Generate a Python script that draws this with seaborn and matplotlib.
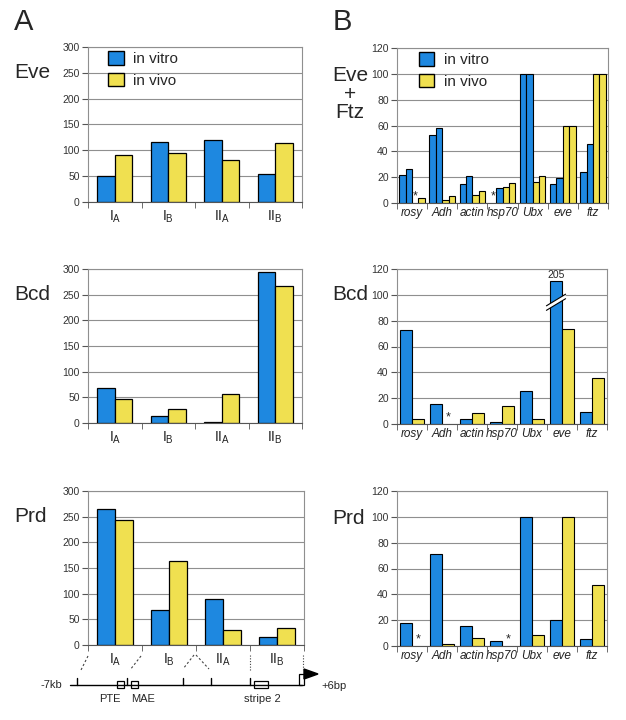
import numpy as np
import pandas as pd
import matplotlib
matplotlib.use("Agg")
import matplotlib.pyplot as plt
from matplotlib.patches import Patch, Rectangle, Polygon
import seaborn as sns

sns.set_style("ticks")
plt.rcParams["font.family"] = ["Liberation Sans", "DejaVu Sans"]
plt.rcParams["mathtext.fontset"] = "custom"
plt.rcParams["mathtext.rm"] = "Liberation Sans"

BLUE = "#1e88e0"
YELLOW = "#f0e050"
GRID = "#8f8f8f"

W, H = 626, 720

# --- panel A: enhancer regions ---
regions = ["IA", "IB", "IIA", "IIB"]
region_labels = [r"I$_{\rm A}$", r"I$_{\rm B}$", r"II$_{\rm A}$", r"II$_{\rm B}$"]

eve_vitro = [50, 116, 120, 55]
eve_vivo = [91, 95, 81, 115]
bcd_vitro = [68, 13, 2, 294]
bcd_vivo = [47, 27, 57, 267]
prd_vitro = [264, 69, 89, 16]
prd_vivo = [244, 164, 29, 34]

# --- panel B: control genes ---
genes = ["rosy", "Adh", "actin", "hsp70", "Ubx", "eve", "ftz"]

# Eve + Ftz: two in vitro and two in vivo measurements per gene (nan = *)
evftz_vitro1 = [22, 52.5, 14.5, np.nan, 100, 15, 24]
evftz_vitro2 = [26.5, 58, 21, 11.5, 100, 19, 46]
evftz_vivo1 = [np.nan, 2, 6.5, 12.5, 16, 59.5, 100]
evftz_vivo2 = [3.5, 5.5, 9, 15.5, 21, 59.5, 100]

bcdB_vitro = [73, 15.5, 4, 1.3, 25.5, 205, 9]
bcdB_vivo = [4, np.nan, 8.2, 13.7, 4, 73.5, 35.5]

prdB_vitro = [17.5, 71.5, 15.5, 3.6, 100, 20, 5.7]
prdB_vivo = [np.nan, 1.8, 6.2, np.nan, 8.8, 99.5, 47]

B_CLIP = 111  # broken-axis display height for off-scale bars


def px_axes(x0, y0, x1, y1):
    return fig.add_axes([x0 / W, 1 - y1 / H, (x1 - x0) / W, (y1 - y0) / H])


def style_axes(ax, n, ymax, step, labels, italic=False, pad=5, fs=9):
    ax.set_xlim(-0.5, n - 0.5)
    ax.set_ylim(0, ymax)
    ax.set_yticks(np.arange(0, ymax + 1, step))
    ax.yaxis.grid(True, color=GRID, lw=0.8)
    ax.set_axisbelow(True)
    for s in ax.spines.values():
        s.set_color(GRID)
        s.set_linewidth(0.8)
    ax.spines["bottom"].set_color("#555555")
    ax.set_xticks(range(n))
    ax.set_xticklabels(labels, fontsize=fs, style="italic" if italic else "normal", color="#222222")
    ax.set_xticks(np.arange(-0.5, n, 1), minor=True)
    ax.tick_params(axis="x", which="major", length=0, pad=pad)
    ax.tick_params(axis="x", which="minor", length=4, color="#555555", direction="out")
    ax.tick_params(axis="y", length=4, color="#555555", labelsize=7.5, labelcolor="#333333", pad=2)
    ax.set_xlabel("")
    ax.set_ylabel("")


def pair_frame(cats, vitro, vivo):
    return pd.DataFrame({
        "cat": cats * 2,
        "assay": ["in vitro"] * len(cats) + ["in vivo"] * len(cats),
        "value": list(vitro) + list(vivo),
    })


fig = plt.figure(figsize=(W / 100, H / 100), dpi=100)

# ---------- column A ----------
a_boxes = [(88, 47, 302, 202), (88, 269, 302, 423), (88, 491, 304, 645)]
a_data = [(eve_vitro, eve_vivo), (bcd_vitro, bcd_vivo), (prd_vitro, prd_vivo)]
axesA = []
for box, (vt, vv) in zip(a_boxes, a_data):
    ax = px_axes(*box)
    df = pair_frame(regions, vt, vv)
    sns.barplot(data=df, x="cat", y="value", hue="assay", order=regions,
                palette={"in vitro": BLUE, "in vivo": YELLOW}, width=0.66,
                edgecolor="black", linewidth=0.9, saturation=1, legend=False, ax=ax)
    style_axes(ax, 4, 300, 50, region_labels, pad=5, fs=10)
    axesA.append(ax)

# ---------- column B ----------
b_boxes = [(397, 48, 608, 203), (397, 269, 607, 424), (397, 491, 607, 646)]
axesB = []

# Eve + Ftz with four bars per gene
ax = px_axes(*b_boxes[0])
hue4 = ["vitro1", "vitro2", "vivo1", "vivo2"]
df4 = pd.DataFrame({
    "cat": genes * 4,
    "assay": [h for h in hue4 for _ in genes],
    "value": evftz_vitro1 + evftz_vitro2 + evftz_vivo1 + evftz_vivo2,
})
sns.barplot(data=df4, x="cat", y="value", hue="assay", order=genes, hue_order=hue4,
            palette=[BLUE, BLUE, YELLOW, YELLOW], width=0.85,
            edgecolor="black", linewidth=0.8, saturation=1, legend=False, ax=ax)
style_axes(ax, 7, 120, 20, genes, italic=True, pad=3, fs=8.5)
series4 = [evftz_vitro1, evftz_vitro2, evftz_vivo1, evftz_vivo2]
bw4 = 0.85 / 4
for k, ser in enumerate(series4):
    for i, v in enumerate(ser):
        if np.isnan(v):
            ax.text(i - 0.425 + bw4 * (k + 0.5), 0.3, "*", ha="center", va="bottom", fontsize=9)
axesB.append(ax)

for box, (vt, vv) in zip(b_boxes[1:], [(bcdB_vitro, bcdB_vivo), (prdB_vitro, prdB_vivo)]):
    ax = px_axes(*box)
    shown = [min(v, B_CLIP) for v in vt]
    df = pair_frame(genes, shown, vv)
    sns.barplot(data=df, x="cat", y="value", hue="assay", order=genes,
                palette={"in vitro": BLUE, "in vivo": YELLOW}, width=0.8,
                edgecolor="black", linewidth=0.8, saturation=1, legend=False, ax=ax)
    style_axes(ax, 7, 120, 20, genes, italic=True, pad=3, fs=8.5)
    for k, ser in enumerate([vt, vv]):
        for i, v in enumerate(ser):
            xc = i - 0.4 + 0.4 * (k + 0.5)
            if np.isnan(v):
                ax.text(xc, 0.3, "*", ha="center", va="bottom", fontsize=9)
            elif v > B_CLIP:
                ax.text(xc, B_CLIP + 0.5, f"{v:g}", ha="center", va="bottom", fontsize=7.5)
                # break marks across the off-scale bar
                xs = np.array([xc - 0.32, xc + 0.32])
                lo = np.array([88, 97])
                hi = lo + 3.5
                ax.add_patch(Polygon([[xs[0], lo[0]], [xs[1], lo[1]], [xs[1], hi[1]], [xs[0], hi[0]]],
                                     closed=True, facecolor="white", edgecolor="none", zorder=5))
                ax.plot(xs, lo, color="black", lw=0.8, zorder=6)
                ax.plot(xs, hi, color="black", lw=0.8, zorder=6)
    axesB.append(ax)

# legends
leg_handles = [Patch(facecolor=BLUE, edgecolor="black", lw=1), Patch(facecolor=YELLOW, edgecolor="black", lw=1)]
for ax, xa in [(axesA[0], 0.095), (axesB[0], 0.105)]:
    ax.legend(leg_handles, ["in vitro", "in vivo"], loc="upper left", bbox_to_anchor=(xa, 0.975),
              frameon=False, fontsize=11, handlelength=1.0, handleheight=1.0,
              handletextpad=0.6, labelspacing=0.45, borderpad=0, borderaxespad=0)

# panel letters and row labels
def ftext(x, y, s, **kw):
    fig.text(x / W, 1 - y / H, s, **kw)

ftext(14, 22, "A", fontsize=21, ha="left", va="center")
ftext(333, 22, "B", fontsize=21, ha="left", va="center")
ftext(14, 73, "Eve", fontsize=15, ha="left", va="center")
ftext(14, 295, "Bcd", fontsize=15, ha="left", va="center")
ftext(14, 517, "Prd", fontsize=15, ha="left", va="center")
ftext(350, 94, "Eve\n+\nFtz", fontsize=15, ha="center", va="center", linespacing=0.95)
ftext(332, 295, "Bcd", fontsize=15, ha="left", va="center")
ftext(332, 518, "Prd", fontsize=15, ha="left", va="center")

# ---------- eve promoter map under column A ----------
ov = fig.add_axes([0, 0, 1, 1])
ov.set_xlim(0, W)
ov.set_ylim(H, 0)
ov.axis("off")
ov.patch.set_visible(False)

line_y = 685
ov.plot([70, 302], [line_y, line_y], color="black", lw=1)
for tx in [77, 127, 183, 211, 250]:
    ov.plot([tx, tx], [line_y - 7, line_y], color="black", lw=1)
for x0, x1 in [(117, 124), (131, 138), (254, 268)]:
    ov.add_patch(Rectangle((x0, line_y - 4), x1 - x0, 7, facecolor="white", edgecolor="black", lw=0.9))
ov.add_patch(Rectangle((299, line_y - 11), 5, 11, facecolor="white", edgecolor="black", lw=0.9))
ov.add_patch(Polygon([[304, 669], [304, 679], [318, 674]], closed=True, facecolor="black", edgecolor="black"))
ov.text(62, line_y, "-7kb", ha="right", va="center", fontsize=8)
ov.text(321, line_y + 1, "+6bp", ha="left", va="center", fontsize=8)
ov.text(110, 699, "PTE", ha="center", va="center", fontsize=8)
ov.text(143, 699, "MAE", ha="center", va="center", fontsize=8)
ov.text(262, 699, "stripe 2", ha="center", va="center", fontsize=8)

dash = dict(color="#444444", lw=0.8, linestyle=(0, (2, 2)))
dots = dict(color="#444444", lw=0.8, linestyle=(0, (1, 1.5)))
ov.plot([88, 81], [656, 670], **dash)
ov.plot([141, 130], [656, 670], **dash)
ov.plot([194, 183], [655, 669], **dash)
ov.plot([196, 209], [655, 669], **dash)
ov.plot([250, 250], [655, 671], **dots)
ov.plot([303, 303], [655, 672], **dots)

fig.savefig("out.png", dpi=100)
